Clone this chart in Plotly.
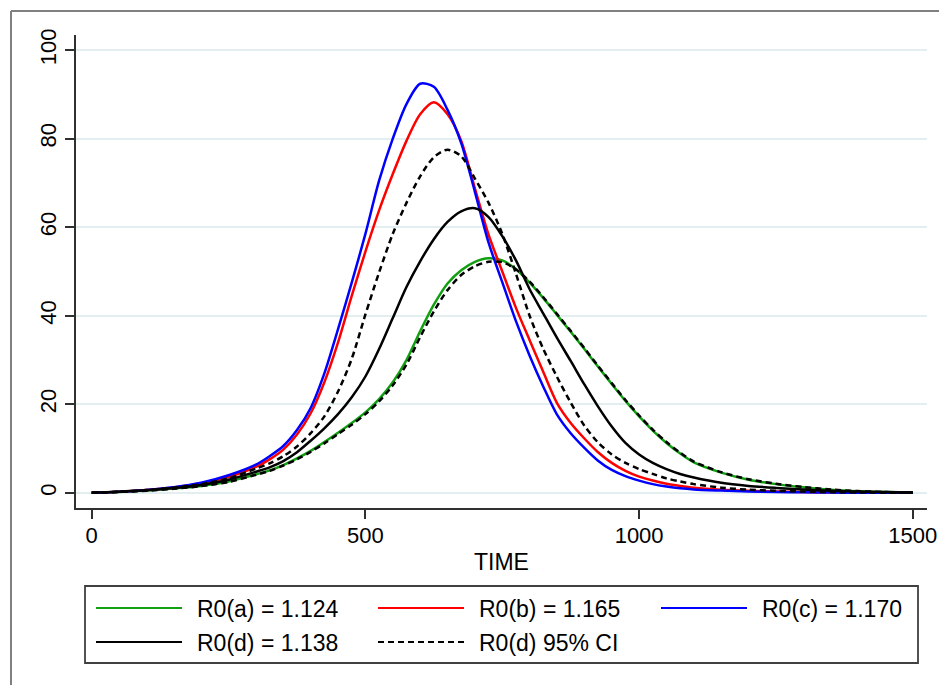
import plotly.graph_objects as go

# ---------------- data ----------------
time = [0, 50, 100, 150, 200, 250, 300,
        325, 350, 375, 400, 425, 450, 475, 500, 525, 550, 575, 600, 625, 650, 675, 700,
        725, 750, 775, 800, 825, 850, 875, 900, 925, 950, 975, 1000, 1025, 1050, 1075, 1100,
        1150, 1200, 1250, 1300, 1350, 1400, 1450, 1500]

r0_a = [0.05, 0.25, 0.55, 1.0, 1.6, 2.6, 4.2,
        5.1, 6.3, 7.8, 9.5, 11.5, 13.6, 15.8, 18.2, 21.2, 25.0, 30.0, 36.5, 42.5, 47.3, 50.3, 52.2,
        53.0, 52.5, 50.5, 47.5, 44.0, 40.2, 36.4, 32.5, 28.5, 24.6, 20.8, 17.3, 14.1, 11.3, 8.9, 6.9,
        4.6, 3.0, 2.0, 1.3, 0.75, 0.4, 0.2, 0.1]
r0_b = [0.05, 0.3, 0.7, 1.25, 2.2, 3.6, 5.9,
        7.6, 9.8, 13.2, 18.0, 25.0, 34.0, 44.5, 54.5, 63.8, 72.0, 79.5, 85.5, 88.2, 85.5, 79.5, 68.8,
        58.3, 50.0, 41.8, 34.5, 27.3, 20.3, 15.8, 12.3, 9.2, 6.8, 5.0, 3.7, 2.8, 2.1, 1.6, 1.2,
        0.75, 0.5, 0.33, 0.22, 0.14, 0.09, 0.06, 0.04]
r0_c = [0.05, 0.3, 0.7, 1.3, 2.3, 4.0, 6.4,
        8.3, 10.6, 14.2, 19.2, 27.0, 37.0, 47.5, 58.5, 70.5, 80.0, 87.8, 92.4, 91.7, 86.5, 79.0, 68.0,
        56.5, 47.6, 38.8, 31.0, 24.0, 17.7, 13.5, 10.2, 7.3, 5.2, 3.8, 2.8, 2.0, 1.45, 1.05, 0.8,
        0.55, 0.35, 0.22, 0.14, 0.09, 0.06, 0.04, 0.03]
r0_d = [0.05, 0.3, 0.6, 1.1, 1.8, 3.0, 4.8,
        5.8, 7.2, 9.2, 11.8, 14.6, 17.8, 21.6, 26.3, 32.5, 39.5, 46.5, 52.3, 57.3, 61.2, 63.6, 64.3,
        62.3, 58.0, 52.5, 46.0, 40.5, 35.0, 29.8, 24.5, 19.5, 15.0, 11.3, 8.7, 6.8, 5.4, 4.3, 3.5,
        2.3, 1.6, 1.15, 0.78, 0.5, 0.32, 0.2, 0.12]
r0_d_ci_upper = [0.05, 0.3, 0.65, 1.2, 2.0, 3.3, 5.5,
                 6.7, 8.3, 10.5, 13.5, 17.3, 22.9, 30.3, 40.3, 49.8, 58.5, 65.5, 71.5, 75.8, 77.5, 76.0, 71.0,
                 65.5, 58.5, 49.5, 40.0, 32.5, 26.2, 20.4, 15.2, 11.4, 8.7, 6.8, 5.4, 4.3, 3.3, 2.6, 2.0,
                 1.2, 0.75, 0.5, 0.32, 0.2, 0.13, 0.08, 0.05]
r0_d_ci_lower = [0.05, 0.25, 0.5, 0.95, 1.55, 2.5, 4.1,
                 5.0, 6.2, 7.6, 9.3, 11.2, 13.3, 15.4, 17.8, 20.7, 24.3, 29.0, 35.2, 41.0, 45.8, 49.2, 51.2,
                 52.2, 52.1, 50.5, 47.7, 44.2, 40.4, 36.6, 32.7, 28.7, 24.8, 21.0, 17.5, 14.3, 11.5, 9.1, 7.1,
                 4.7, 3.1, 2.1, 1.35, 0.8, 0.42, 0.22, 0.1]

legend_labels = ["R0(a) = 1.124", "R0(b) = 1.165", "R0(c) = 1.170", "R0(d) = 1.138", "R0(d) 95% CI"]
x_ticks = [0, 500, 1000, 1500]
y_ticks = [0, 20, 40, 60, 80, 100]

GREEN = "#12a012"
RED = "#ff0000"
BLUE = "#0000ff"
BLACK = "#000000"
DASH = "6px,4px"
FONT = "Liberation Sans, Arial, sans-serif"

series = [
    (r0_a, GREEN, "solid", legend_labels[0]),
    (r0_b, RED, "solid", legend_labels[1]),
    (r0_c, BLUE, "solid", legend_labels[2]),
    (r0_d, BLACK, "solid", legend_labels[3]),
    (r0_d_ci_upper, BLACK, DASH, legend_labels[4]),
    (r0_d_ci_lower, BLACK, DASH, legend_labels[4]),
]

fig = go.Figure()
for vals, col, dash, name in series:
    fig.add_trace(go.Scatter(
        x=time, y=vals, mode="lines", name=name, showlegend=False,
        line=dict(color=col, width=2.5, dash=dash, shape="spline", smoothing=0.8),
        hoverinfo="x+y+name",
    ))

# ---------------- layout geometry ----------------
W, H = 939, 685
ML, MR, MT, MB = 76, 12, 35, 177
PW, PH = W - ML - MR, H - MT - MB


def px_x(px):
    return (px - ML) / PW


def px_y(py):
    return (H - MB - py) / PH


fig.update_layout(
    width=W, height=H,
    margin=dict(l=ML, r=MR, t=MT, b=MB, pad=0, autoexpand=False),
    paper_bgcolor="white", plot_bgcolor="white",
    font=dict(family=FONT, size=22, color="black"),
    showlegend=False,
)

fig.update_xaxes(
    range=[-28.7, 1525.9], tickvals=x_ticks, ticktext=[str(v) for v in x_ticks],
    showgrid=False, zeroline=False, automargin=False,
    showline=True, linecolor="#303030", linewidth=1.6,
    ticks="outside", ticklen=9, tickwidth=1.6, tickcolor="#303030",
    ticklabelstandoff=-2,
    tickfont=dict(size=22, family=FONT, color="black"),
    title=dict(text="TIME", font=dict(size=23, family=FONT, color="black"), standoff=7),
)
fig.update_yaxes(
    range=[-3.39, 103.4], tickvals=y_ticks, ticktext=[str(v) for v in y_ticks],
    showgrid=True, gridcolor="#e2eef0", gridwidth=2, zeroline=False, automargin=False,
    showline=True, linecolor="#303030", linewidth=1.6,
    ticks="outside", ticklen=9, tickwidth=1.6, tickcolor="#303030",
    tickangle=-90,
    tickfont=dict(size=22, family=FONT, color="black"),
)

shapes = []
# outer frame (top and left edges visible)
shapes.append(dict(type="line", xref="paper", yref="paper",
                   x0=px_x(11), x1=px_x(W + 2), y0=px_y(11), y1=px_y(11),
                   line=dict(color="#808080", width=2)))
shapes.append(dict(type="line", xref="paper", yref="paper",
                   x0=px_x(11), x1=px_x(11), y0=px_y(11), y1=px_y(H + 2),
                   line=dict(color="#808080", width=2)))
# legend box
shapes.append(dict(type="rect", xref="paper", yref="paper",
                   x0=px_x(85), x1=px_x(918), y0=px_y(586), y1=px_y(663),
                   line=dict(color="#404040", width=1.8), fillcolor="rgba(0,0,0,0)"))

legend_items = [
    (legend_labels[0], GREEN, "solid", 96, 608),
    (legend_labels[1], RED, "solid", 378, 608),
    (legend_labels[2], BLUE, "solid", 661, 608),
    (legend_labels[3], BLACK, "solid", 96, 642),
    (legend_labels[4], BLACK, DASH, 378, 642),
]
annotations = []
for label, col, dash, x0, yc in legend_items:
    shapes.append(dict(type="line", xref="paper", yref="paper",
                       x0=px_x(x0), x1=px_x(x0 + 86), y0=px_y(yc), y1=px_y(yc),
                       line=dict(color=col, width=2.2, dash=dash)))
    annotations.append(dict(xref="paper", yref="paper", x=px_x(x0 + 99), y=px_y(yc + 1),
                            text=label, showarrow=False, xanchor="left", yanchor="middle",
                            font=dict(size=23, family=FONT, color="black")))

fig.update_layout(shapes=shapes, annotations=annotations)

fig.write_html("out.html",
               config={"displayModeBar": False},
               post_script="document.body.style.margin='0';document.body.style.padding='0';"
                           "document.body.style.overflow='hidden';")
